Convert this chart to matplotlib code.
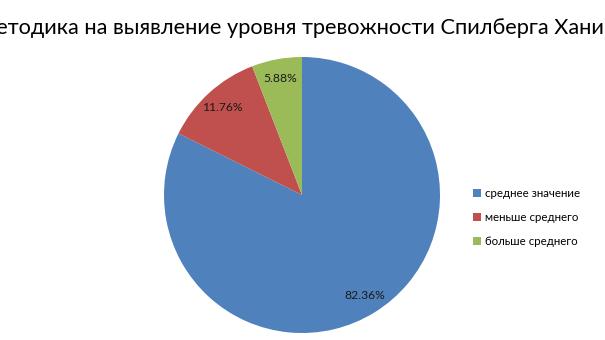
import matplotlib
matplotlib.use("Agg")
import matplotlib.pyplot as plt

# Data
categories = ["среднее значение", "меньше среднего", "больше среднего"]
shares = [82.36, 11.76, 5.88]
colors = ["#4F81BD", "#C0504D", "#9BBB59"]
title = "Методика на выявление уровня тревожности Спилберга Ханина"

plt.rcParams["font.family"] = ["Lato", "DejaVu Sans"]

def main():
    fig = plt.figure(figsize=(6.05, 3.4), dpi=100)

    # pie area: centred at ~(302, 195) px, radius ~138 px
    ax = fig.add_axes([164 / 605, 7 / 340, 276 / 605, 276 / 340])
    wedges, texts, autotexts = ax.pie(
        shares,
        colors=colors,
        startangle=90,
        counterclock=False,
        autopct="%.2f%%",
        pctdistance=0.86,
        textprops={"fontsize": 8.7, "color": "#1a1a1a"},
    )
    ax.set_xlim(-1, 1)
    ax.set_ylim(-1, 1)
    ax.set_aspect("equal")

    fig.text(0.499, 0.918, title, ha="center", va="center", fontsize=15.7)

    fig.legend(
        wedges,
        categories,
        loc="center left",
        bbox_to_anchor=(0.765, 0.36),
        frameon=False,
        fontsize=8.3,
        handlelength=0.65,
        handleheight=0.65,
        handletextpad=0.4,
        labelspacing=1.15,
    )

    fig.savefig("out.png", dpi=100)

if __name__ == "__main__":
    main()
